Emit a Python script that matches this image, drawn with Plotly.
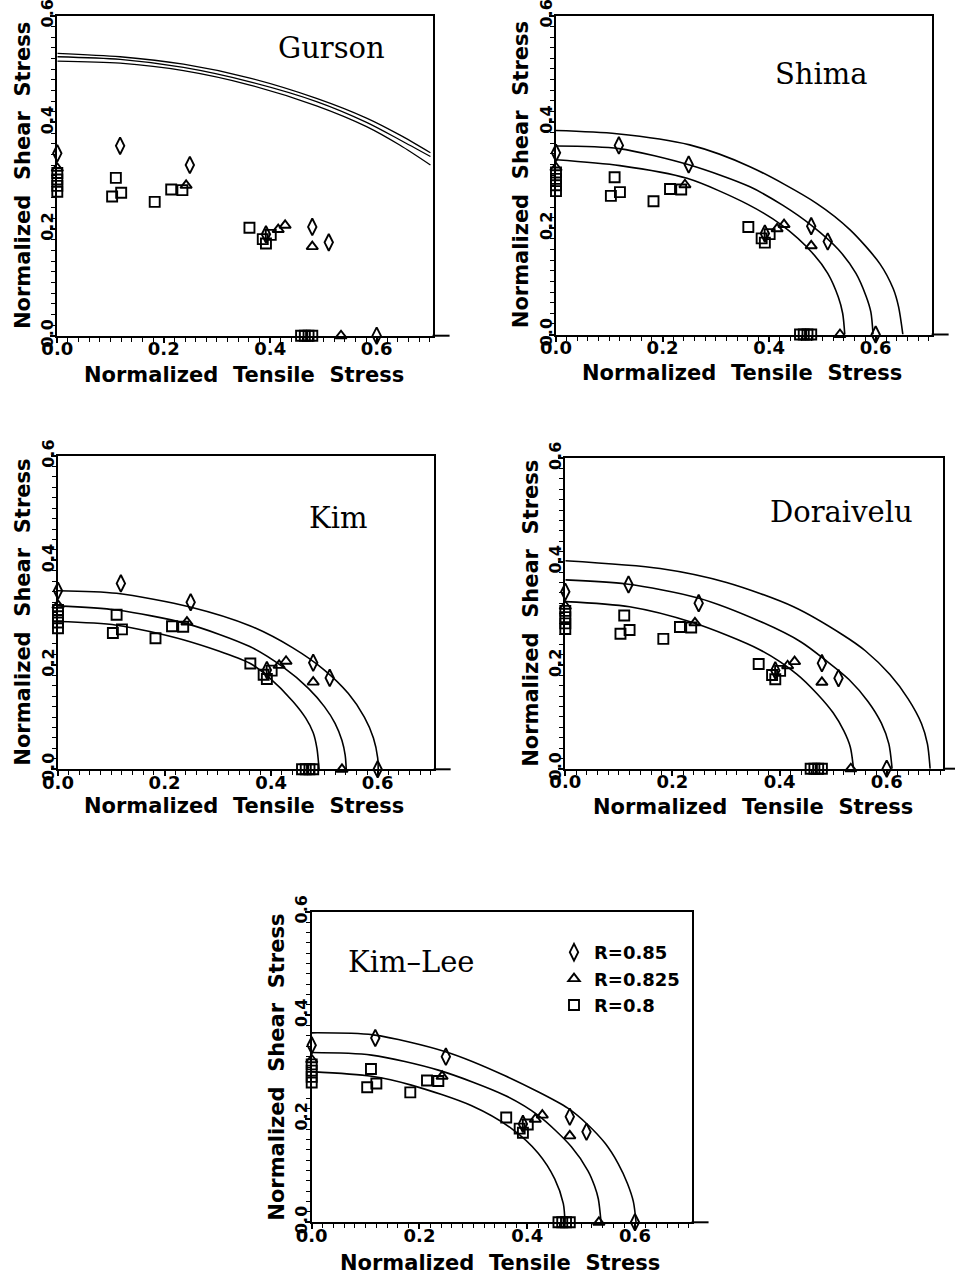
import plotly.graph_objects as go

# ---------------- data ----------------
# measured points, identical in every panel
r085_x = [0.0, 0.118, 0.249, 0.392, 0.479, 0.510, 0.600]
r085_y = [0.342, 0.356, 0.320, 0.190, 0.204, 0.175, 0.0]
r0825_x = [0.0, 0.242, 0.415, 0.428, 0.479, 0.533]
r0825_y = [0.314, 0.282, 0.199, 0.207, 0.167, 0.0]
r08_x = [0.0, 0.0, 0.0, 0.0, 0.103, 0.110, 0.120, 0.183, 0.214, 0.235,
         0.361, 0.386, 0.392, 0.401, 0.458, 0.465, 0.472, 0.479]
r08_y = [0.305, 0.293, 0.281, 0.270, 0.261, 0.296, 0.268, 0.251, 0.274, 0.273,
         0.2025, 0.181, 0.173, 0.189, 0.0, 0.0, 0.0, 0.0]

# model curves
gurson_x = [0.0, 0.118, 0.237, 0.362, 0.487, 0.581, 0.644, 0.701]
gurson_top_y = [0.5295, 0.523, 0.509, 0.483, 0.445, 0.408, 0.376, 0.343]
gurson_mid_y = [0.523, 0.518, 0.503, 0.476, 0.439, 0.400, 0.367, 0.336]
gurson_bot_y = [0.515, 0.511, 0.497, 0.470, 0.431, 0.392, 0.357, 0.320]

shima_top_x = [0.0, 0.114, 0.251, 0.364, 0.489, 0.552, 0.608, 0.633, 0.643, 0.651]
shima_top_y = [0.384, 0.378, 0.357, 0.316, 0.247, 0.197, 0.133, 0.086, 0.052, 0.0]
shima_mid_x = [0.0, 0.118, 0.251, 0.364, 0.426, 0.480, 0.530, 0.563, 0.582, 0.591, 0.595]
shima_mid_y = [0.355, 0.350, 0.319, 0.278, 0.243, 0.205, 0.160, 0.115, 0.072, 0.042, 0.0]
shima_bot_x = [0.0, 0.120, 0.246, 0.360, 0.425, 0.480, 0.510, 0.530, 0.538, 0.542]
shima_bot_y = [0.329, 0.318, 0.294, 0.245, 0.205, 0.155, 0.115, 0.070, 0.040, 0.0]

kim_top_x = [0.0, 0.110, 0.248, 0.360, 0.440, 0.500, 0.545, 0.575, 0.592, 0.600, 0.601]
kim_top_y = [0.342, 0.337, 0.311, 0.275, 0.233, 0.190, 0.145, 0.100, 0.060, 0.022, 0.0]
kim_mid_x = [0.0, 0.110, 0.241, 0.360, 0.422, 0.470, 0.500, 0.520, 0.533, 0.539, 0.541]
kim_mid_y = [0.313, 0.305, 0.279, 0.235, 0.196, 0.155, 0.120, 0.088, 0.055, 0.027, 0.0]
kim_bot_x = [0.0, 0.110, 0.235, 0.360, 0.397, 0.441, 0.465, 0.479, 0.486, 0.490]
kim_bot_y = [0.283, 0.276, 0.248, 0.203, 0.175, 0.130, 0.098, 0.070, 0.040, 0.0]

dor_top_x = [0.0, 0.177, 0.301, 0.426, 0.519, 0.560, 0.606, 0.640, 0.665, 0.676, 0.681]
dor_top_y = [0.402, 0.387, 0.360, 0.313, 0.258, 0.228, 0.182, 0.135, 0.087, 0.048, 0.0]
dor_mid_x = [0.0, 0.114, 0.248, 0.363, 0.440, 0.488, 0.530, 0.565, 0.590, 0.604, 0.610]
dor_mid_y = [0.365, 0.357, 0.330, 0.285, 0.245, 0.208, 0.172, 0.130, 0.088, 0.048, 0.0]
dor_bot_x = [0.0, 0.120, 0.239, 0.363, 0.432, 0.470, 0.500, 0.520, 0.532, 0.538]
dor_bot_y = [0.323, 0.313, 0.282, 0.230, 0.183, 0.145, 0.108, 0.073, 0.042, 0.0]

kl_top_x = [0.0, 0.114, 0.247, 0.359, 0.476, 0.513, 0.545, 0.569, 0.586, 0.597, 0.602]
kl_top_y = [0.366, 0.362, 0.330, 0.283, 0.220, 0.188, 0.152, 0.113, 0.075, 0.040, 0.0]
kl_mid_x = [0.0, 0.111, 0.235, 0.359, 0.421, 0.482, 0.513, 0.525, 0.532, 0.537]
kl_mid_y = [0.328, 0.323, 0.294, 0.245, 0.206, 0.146, 0.099, 0.070, 0.045, 0.0]
kl_bot_x = [0.0, 0.111, 0.185, 0.297, 0.371, 0.420, 0.451, 0.467, 0.470]
kl_bot_y = [0.291, 0.282, 0.265, 0.225, 0.181, 0.134, 0.084, 0.036, 0.0]

panel_names = ["Gurson", "Shima", "Kim", "Doraivelu", "Kim\u2013Lee"]
legend_labels = ["R=0.85", "R=0.825", "R=0.8"]
x_title = "Normalized\u00a0\u00a0Tensile\u00a0\u00a0Stress"
y_title = "Normalized\u00a0\u00a0Shear\u00a0\u00a0Stress"

# ---------------- layout geometry ----------------
W, H = 955, 1275
# (left px, x-unit px, bottom px, top px) in window pixels
geom = [
    (57.3, 532.3, 335.7, 15.7),
    (556.0, 532.8, 334.5, 15.8),
    (58.0, 532.8, 769.3, 456.0),
    (565.3, 535.7, 768.7, 458.3),
    (311.7, 538.8, 1222.3, 911.7),
]
XMAX = 0.705

curves = [
    [(gurson_x, gurson_top_y), (gurson_x, gurson_mid_y), (gurson_x, gurson_bot_y)],
    [(shima_top_x, shima_top_y), (shima_mid_x, shima_mid_y), (shima_bot_x, shima_bot_y)],
    [(kim_top_x, kim_top_y), (kim_mid_x, kim_mid_y), (kim_bot_x, kim_bot_y)],
    [(dor_top_x, dor_top_y), (dor_mid_x, dor_mid_y), (dor_bot_x, dor_bot_y)],
    [(kl_top_x, kl_top_y), (kl_mid_x, kl_mid_y), (kl_bot_x, kl_bot_y)],
]
title_pos = [(0.516, 0.539), (0.499, 0.491), (0.526, 0.482), (0.516, 0.497), (0.186, 0.503)]
xtitle_shift = [-39, -38, -37, -38, -41]

FONT = "DejaVu Sans"
fig = go.Figure()

series = [
    (r085_x, r085_y, "diamond-tall-open", 12, legend_labels[0]),
    (r0825_x, r0825_y, "triangle-up-open", 10, legend_labels[1]),
    (r08_x, r08_y, "square-open", 10, legend_labels[2]),
]

annotations = []
shapes = []
for i in range(5):
    ax = "" if i == 0 else str(i + 1)
    xr, yr = "x" + ax, "y" + ax
    lx, ux, by, ty = geom[i]
    x0 = lx / W
    x1 = (lx + XMAX * ux) / W
    y0 = 1 - by / H
    y1 = 1 - ty / H
    axis_common = dict(
        showline=True, linecolor="black", linewidth=2, mirror=True,
        ticks="outside", ticklen=5, tickwidth=1.5, tickcolor="black",
        tick0=0, dtick=0.2, tickformat=".1f",
        ticklabeloverflow="allow",
        minor=dict(tick0=0, dtick=0.02, ticks="outside", ticklen=4,
                   tickwidth=1.3, tickcolor="black"),
        showgrid=False, zeroline=False, fixedrange=True, automargin=False,
    )
    fig.layout["xaxis" + ax] = dict(domain=[x0, x1], range=[0, XMAX],
                                    anchor=yr, ticklabelstandoff=-9,
                                    tickfont=dict(family=FONT, size=18, color="black",
                                                  weight="bold"),
                                    **axis_common)
    fig.layout["yaxis" + ax] = dict(domain=[y0, y1], range=[0, 0.6],
                                    anchor=xr, tickangle=-90, ticklabelstandoff=-9,
                                    tickfont=dict(family=FONT, size=16, color="black",
                                                  weight="bold"),
                                    **axis_common)

    for cx, cy in curves[i]:
        fig.add_trace(go.Scatter(x=cx, y=cy, mode="lines",
                                 line=dict(color="black", width=1.6 if i else 1.3,
                                           shape="spline", smoothing=0.8),
                                 showlegend=False, hoverinfo="skip",
                                 xaxis=xr, yaxis=yr))
    for sx, sy, sym, size, lab in series:
        fig.add_trace(go.Scatter(x=sx, y=sy, mode="markers", name=lab,
                                 marker=dict(symbol=sym, size=size, color="black",
                                             line=dict(color="black", width=1.9)),
                                 showlegend=(i == 4), cliponaxis=False,
                                 xaxis=xr, yaxis=yr))

    tx, ty_ = title_pos[i]
    annotations.append(dict(x=tx, y=ty_, xref=xr, yref=yr, text=panel_names[i],
                            showarrow=False,
                            font=dict(family="DejaVu Serif", size=29, color="black")))
    annotations.append(dict(x=0.35 / XMAX, y=0,
                            xref=xr + " domain", yref=yr + " domain",
                            text=x_title, showarrow=False, yshift=xtitle_shift[i],
                            xanchor="center", yanchor="middle",
                            font=dict(family=FONT, size=21, color="black", weight="bold")))
    annotations.append(dict(x=0, y=0.5, xref=xr + " domain", yref=yr + " domain",
                            text=y_title, showarrow=False, xshift=-35, textangle=-90,
                            xanchor="center", yanchor="middle",
                            font=dict(family=FONT, size=21, color="black", weight="bold")))
    # x axis line continues a little past the right frame
    shapes.append(dict(type="line", xref=xr + " domain", yref=yr + " domain",
                       x0=1, x1=1 + 17 / (XMAX * ux), y0=0, y1=0,
                       line=dict(color="black", width=2)))

fig.update_layout(
    width=W, height=H,
    margin=dict(l=0, r=0, t=0, b=0, autoexpand=False),
    paper_bgcolor="white", plot_bgcolor="white",
    annotations=annotations, shapes=shapes,
    legend=dict(x=554 / W, y=1 - 934 / H, xanchor="left", yanchor="top",
                bgcolor="rgba(0,0,0,0)",
                font=dict(family=FONT, size=18, color="black", weight="bold")),
    showlegend=True,
)

fig.write_html("out.html",
               config={"displayModeBar": False},
               post_script="document.body.style.margin='0';"
                           "document.body.style.overflow='hidden';")
